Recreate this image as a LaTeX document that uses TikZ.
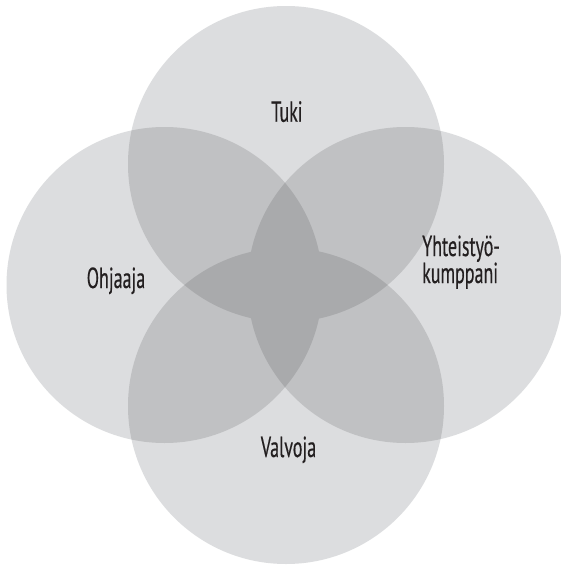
\documentclass[tikz,border=0pt]{standalone}
\usepackage{fontspec}
\setmainfont{PT Sans}[FakeStretch=0.62,FakeBold=0.4]
\definecolor{one}{RGB}{220,221,223}
\definecolor{two}{RGB}{192,193,195}
\definecolor{three}{RGB}{169,170,172}
\definecolor{ink}{RGB}{35,31,32}
\newcommand\vcirc[1]{(#1) circle[radius=158pt]}
\tikzset{lbl/.style={inner sep=0pt, text=ink, font=\fontsize{29}{27}\selectfont}}
\begin{document}
\begin{tikzpicture}[x=1pt,y=-1pt]
\useasboundingbox (0,0) rectangle (561,565);
\fill[white] (0,0) rectangle (561,565);
\coordinate (T) at (286,164);
\coordinate (B) at (286,406);
\coordinate (L) at (164.5,285);
\coordinate (R) at (405.5,285);
% single circles
\foreach \c in {T,B,L,R} \fill[one] \vcirc{\c};
% pairwise overlaps
\foreach \a/\b in {T/L,T/R,T/B,L/R,L/B,R/B}{
  \begin{scope}
    \clip \vcirc{\a};
    \fill[two] \vcirc{\b};
  \end{scope}
}
% triple overlaps
\foreach \a/\b/\c in {T/L/R,T/L/B,T/R/B,L/R/B}{
  \begin{scope}
    \clip \vcirc{\a};
    \clip \vcirc{\b};
    \fill[three] \vcirc{\c};
  \end{scope}
}
\node[lbl, anchor=base] (tuki) at (287,121.7) {Tuki};
\node[lbl, anchor=base] (ohjaaja) at (116,288) {Ohjaaja};
\node[lbl, anchor=base] (valvoja) at (288.5,457) {Valvoja};
\node[lbl, anchor=base west, align=left] (yht) at (422,283) {Yhteistyö-\\kumppani};
\end{tikzpicture}
\end{document}
